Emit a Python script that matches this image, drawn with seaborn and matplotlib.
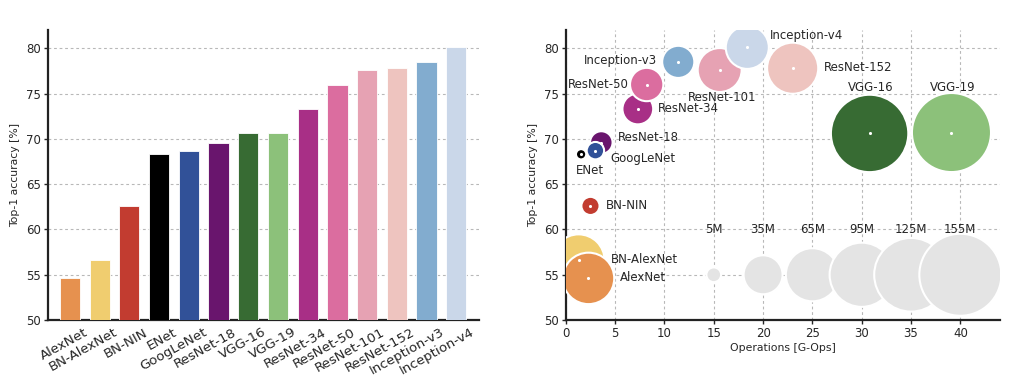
import matplotlib
matplotlib.use("Agg")
import matplotlib.pyplot as plt
import matplotlib.transforms as mtransforms
import numpy as np
import seaborn as sns
import pandas as pd

# data
models = ["AlexNet", "BN-AlexNet", "BN-NIN", "ENet", "GoogLeNet", "ResNet-18",
          "VGG-16", "VGG-19", "ResNet-34", "ResNet-50", "ResNet-101",
          "ResNet-152", "Inception-v3", "Inception-v4"]
accuracy = [54.6, 56.6, 62.6, 68.3, 68.7, 69.6, 70.6, 70.7, 73.3, 76.0, 77.6, 77.8, 78.5, 80.1]
operations = [2.3, 1.3, 2.5, 1.55, 3.0, 3.6, 30.8, 39.1, 7.3, 8.2, 15.6, 23.0, 11.4, 18.4]
params_m = [61, 62, 7.6, 0.37, 7, 11.7, 138, 144, 21.8, 25.6, 44.5, 60.2, 23.8, 42.7]
colors = ["#e6914f", "#f0cd6f", "#c23c30", "#000000", "#315198", "#69156d",
          "#376b33", "#8cc17a", "#a82f86", "#db6d9f", "#e6a2b3", "#eec4bf",
          "#82accf", "#cad7e9"]

ref_params = [5, 35, 65, 95, 125, 155]
ref_ops = [15, 20, 25, 30, 35, 40]
ref_labels = ["5M", "35M", "65M", "95M", "125M", "155M"]

df = pd.DataFrame({"model": models, "acc": accuracy, "ops": operations, "params": params_m})
palette = dict(zip(models, colors))
ref = pd.DataFrame({"ops": ref_ops, "acc": 55.0, "params": ref_params})

# bubbles drawn in this order (later ones on top)
draw_order = ["BN-AlexNet", "AlexNet", "BN-NIN", "ENet", "ResNet-18", "GoogLeNet",
              "ResNet-34", "ResNet-50", "Inception-v3", "ResNet-101", "Inception-v4",
              "ResNet-152", "VGG-16", "VGG-19"]
dfs = df.set_index("model").loc[draw_order].reset_index()

sns.set_theme(style="white")
plt.rcParams["font.family"] = ["DejaVu Sans"]

fig = plt.figure(figsize=(10.14, 3.77), dpi=100)
ax1 = fig.add_axes([0.047, 0.151, 0.425, 0.769])
ax2 = fig.add_axes([0.558, 0.151, 0.428, 0.769])

grid_kw = dict(color="#b8b8b8", linestyle=(0, (2.5, 2.5)), linewidth=0.8)

# left: bar chart
sns.barplot(data=df, x="model", y="acc", hue="model", palette=palette, legend=False,
            saturation=1, width=0.68, edgecolor="white", linewidth=0.6, ax=ax1, zorder=3)
ax1.set_ylim(50, 82)
ax1.set_xlim(-0.75, 13.75)
ax1.set_yticks([50, 55, 60, 65, 70, 75, 80])
ax1.yaxis.grid(True, **grid_kw)
ax1.set_axisbelow(True)
ax1.set_xlabel("")
ax1.set_ylabel("Top-1 accuracy [%]", fontsize=7.8)
ax1.tick_params(axis="y", labelsize=8.5, left=True, length=3, width=1, pad=2)
ax1.tick_params(axis="x", labelsize=9.6, bottom=False, length=0, pad=4)
shift = mtransforms.ScaledTranslation(0.14, 0, fig.dpi_scale_trans)
for lab in ax1.get_xticklabels():
    lab.set_rotation(29)
    lab.set_ha("right")
    lab.set_va("top")
    lab.set_rotation_mode("anchor")
    lab.set_transform(lab.get_transform() + shift)

# right: bubble chart
scale = 22.5
sizes = np.maximum(dfs["params"].to_numpy() * scale, 55)
sns.scatterplot(data=dfs, x="ops", y="acc", hue="model", palette=palette, legend=False,
                s=sizes, edgecolor="white", linewidth=1.5, alpha=1, ax=ax2, zorder=3)
sns.scatterplot(data=ref, x="ops", y="acc", color="#e4e4e4", legend=False,
                s=ref["params"].to_numpy() * scale, edgecolor="white", linewidth=1.5,
                ax=ax2, zorder=3)
# small white centre dots
ax2.scatter(df["ops"], df["acc"], s=5, color="white", zorder=4, linewidths=0)

labels = {
    "Inception-v4": (20.7, 81.4, "left"),
    "Inception-v3": (9.2, 78.6, "right"),
    "ResNet-50": (6.4, 76.0, "right"),
    "ResNet-101": (15.8, 74.6, "center"),
    "ResNet-152": (26.2, 77.9, "left"),
    "ResNet-34": (9.3, 73.3, "left"),
    "ResNet-18": (5.3, 70.1, "left"),
    "GoogLeNet": (4.5, 67.8, "left"),
    "ENet": (2.4, 66.5, "center"),
    "VGG-16": (30.9, 75.7, "center"),
    "VGG-19": (39.2, 75.7, "center"),
    "BN-NIN": (4.1, 62.7, "left"),
    "BN-AlexNet": (4.6, 56.7, "left"),
    "AlexNet": (5.5, 54.7, "left"),
}
for name, (tx, ty, ha) in labels.items():
    ax2.text(tx, ty, name, ha=ha, va="center", fontsize=8.5, zorder=5)
for x, lab in zip(ref_ops, ref_labels):
    ax2.text(x, 60.0, lab, ha="center", va="center", fontsize=8.5, zorder=5)

ax2.set_xlim(0, 44)
ax2.set_ylim(50, 82)
ax2.set_xticks(range(0, 45, 5))
ax2.set_yticks([50, 55, 60, 65, 70, 75, 80])
ax2.grid(True, **grid_kw)
ax2.set_axisbelow(True)
ax2.set_xlabel("Operations [G-Ops]", fontsize=7.8, labelpad=2)
ax2.set_ylabel("Top-1 accuracy [%]", fontsize=7.8)
ax2.tick_params(labelsize=8.5, left=True, bottom=True, length=3, width=1, pad=2)

for ax in (ax1, ax2):
    for side in ("top", "right"):
        ax.spines[side].set_visible(False)
    for side in ("left", "bottom"):
        ax.spines[side].set_color("#222222")
        ax.spines[side].set_linewidth(1.6)

fig.savefig("out.png", dpi=100)
